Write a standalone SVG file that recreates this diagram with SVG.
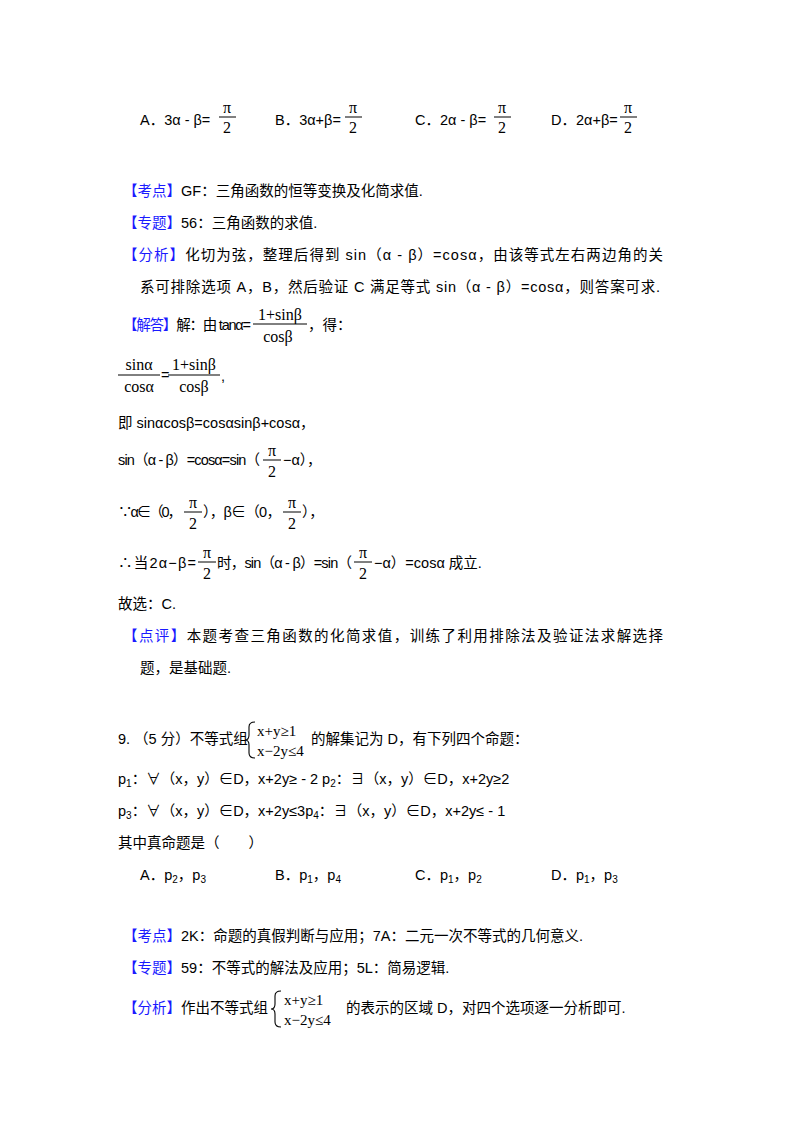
<svg xmlns="http://www.w3.org/2000/svg" width="800" height="1132" viewBox="0 0 800 1132">
<style>
text{font-family:"Liberation Sans","Noto Sans CJK SC",sans-serif;font-size:14.5px;fill:#000}
.b{fill:#1a1aff}
.m{font-family:"Liberation Serif","Noto Sans CJK SC",serif;font-size:16px;text-anchor:middle}
.e{font-family:"Liberation Serif",serif;font-size:15px}
.s{font-size:10px}
line{stroke:#000;stroke-width:1}
path.br{fill:none;stroke:#000;stroke-width:1.1}
</style>
<rect width="800" height="1132" fill="#fff"/>
<g id="options8">
<text x="140" y="125">A．3α - β=</text><text class="m" x="227" y="113">π</text><line x1="219" y1="117" x2="236" y2="117"/><text class="m" x="227" y="133">2</text>
<text x="275" y="125">B．3α+β=</text><text class="m" x="353" y="113">π</text><line x1="345" y1="117" x2="362" y2="117"/><text class="m" x="353" y="133">2</text>
<text x="415" y="125">C．2α - β=</text><text class="m" x="502" y="113">π</text><line x1="494" y1="117" x2="511" y2="117"/><text class="m" x="502" y="133">2</text>
<text x="551" y="125">D．2α+β=</text><text class="m" x="628" y="113">π</text><line x1="620" y1="117" x2="637" y2="117"/><text class="m" x="628" y="133">2</text>
</g>
<g id="analysis8">
<text x="123" y="196"><tspan class="b">【考点】</tspan>GF：三角函数的恒等变换及化简求值.</text>
<text x="123" y="228"><tspan class="b">【专题】</tspan>56：三角函数的求值.</text>
<text x="123" y="260" textLength="540"><tspan class="b">【分析】</tspan>化切为弦，整理后得到 sin（α - β）=cosα，由该等式左右两边角的关</text>
<text x="140" y="292" textLength="520">系可排除选项 A，B，然后验证 C 满足等式 sin（α - β）=cosα，则答案可求.</text>
<text x="123" y="330" textLength="128"><tspan class="b">【解答】</tspan>解：由 tanα=</text>
<text class="m" x="280" y="320">1+sinβ</text><line x1="253" y1="324" x2="307" y2="324"/><text class="m" x="278" y="342">cosβ</text>
<text x="308" y="330">，得：</text>
<text class="m" x="139" y="370">sinα</text><line x1="118" y1="375" x2="160" y2="375"/><text class="m" x="139" y="392">cosα</text>
<text x="161" y="380">=</text><text class="m" x="194" y="370">1+sinβ</text><line x1="168" y1="375" x2="220" y2="375"/><text class="m" x="194" y="392">cosβ</text><text x="221" y="381">,</text>
<text x="118" y="428">即 sinαcosβ=cosαsinβ+cosα，</text>
<text x="118" y="465" textLength="142">sin（α - β）=cosα=sin（</text><text class="m" x="272" y="456">π</text><line x1="263" y1="460" x2="281" y2="460"/><text class="m" x="272" y="477">2</text><text x="283" y="465">−α），</text>
<text x="118" y="517" textLength="64">∵α∈（0，</text><text class="m" x="193" y="508">π</text><line x1="184" y1="512" x2="202" y2="512"/><text class="m" x="193" y="529">2</text><text x="203" y="517" textLength="78">），β∈（0，</text><text class="m" x="292" y="508">π</text><line x1="283" y1="512" x2="301" y2="512"/><text class="m" x="292" y="529">2</text><text x="302" y="517">），</text>
<text x="118" y="568" textLength="78">∴当2α−β=</text><text class="m" x="207" y="558">π</text><line x1="198" y1="562" x2="216" y2="562"/><text class="m" x="207" y="579">2</text><text x="217" y="568" textLength="135">时，sin（α - β）=sin（</text><text class="m" x="363" y="558">π</text><line x1="354" y1="562" x2="372" y2="562"/><text class="m" x="363" y="579">2</text><text x="374" y="568">−α）=cosα 成立.</text>
<text x="118" y="609">故选：C.</text>
<text x="123" y="641" textLength="540"><tspan class="b">【点评】</tspan>本题考查三角函数的化简求值，训练了利用排除法及验证法求解选择</text>
<text x="140" y="673">题，是基础题.</text>
</g>
<g id="question9">
<text x="118" y="744">9. （5 分）不等式组</text>
<path class="br" d="M255,722 Q249,722 249,727 L249,735 Q249,740 245,740 Q249,740 249,745 L249,753 Q249,758 255,758"/>
<text class="e" x="257" y="736">x+y≥1</text>
<text class="e" x="257" y="756">x−2y≤4</text>
<text x="311" y="744">的解集记为 D，有下列四个命题：</text>
<text x="118" y="784">p<tspan class="s" dy="3">1</tspan><tspan dy="-3">：∀（x，y）∈D，x+2y≥ - 2 p</tspan><tspan class="s" dy="3">2</tspan><tspan dy="-3">：∃（x，y）∈D，x+2y≥2</tspan></text>
<text x="118" y="816">p<tspan class="s" dy="3">3</tspan><tspan dy="-3">：∀（x，y）∈D，x+2y≤3p</tspan><tspan class="s" dy="3">4</tspan><tspan dy="-3">：∃（x，y）∈D，x+2y≤ - 1</tspan></text>
<text x="118" y="848">其中真命题是（　　）</text>
<text x="140" y="880">A．p<tspan class="s" dy="3">2</tspan><tspan dy="-3">，p</tspan><tspan class="s" dy="3">3</tspan></text>
<text x="275" y="880">B．p<tspan class="s" dy="3">1</tspan><tspan dy="-3">，p</tspan><tspan class="s" dy="3">4</tspan></text>
<text x="415" y="880">C．p<tspan class="s" dy="3">1</tspan><tspan dy="-3">，p</tspan><tspan class="s" dy="3">2</tspan></text>
<text x="551" y="880">D．p<tspan class="s" dy="3">1</tspan><tspan dy="-3">，p</tspan><tspan class="s" dy="3">3</tspan></text>
</g>
<g id="analysis9">
<text x="123" y="941"><tspan class="b">【考点】</tspan>2K：命题的真假判断与应用；7A：二元一次不等式的几何意义.</text>
<text x="123" y="973"><tspan class="b">【专题】</tspan>59：不等式的解法及应用；5L：简易逻辑.</text>
<text x="123" y="1013"><tspan class="b">【分析】</tspan>作出不等式组</text>
<path class="br" d="M281,991 Q275,991 275,996 L275,1004 Q275,1009 271,1009 Q275,1009 275,1014 L275,1022 Q275,1027 281,1027"/>
<text class="e" x="284" y="1005">x+y≥1</text>
<text class="e" x="284" y="1025">x−2y≤4</text>
<text x="346" y="1013">的表示的区域 D，对四个选项逐一分析即可.</text>
</g>
</svg>
